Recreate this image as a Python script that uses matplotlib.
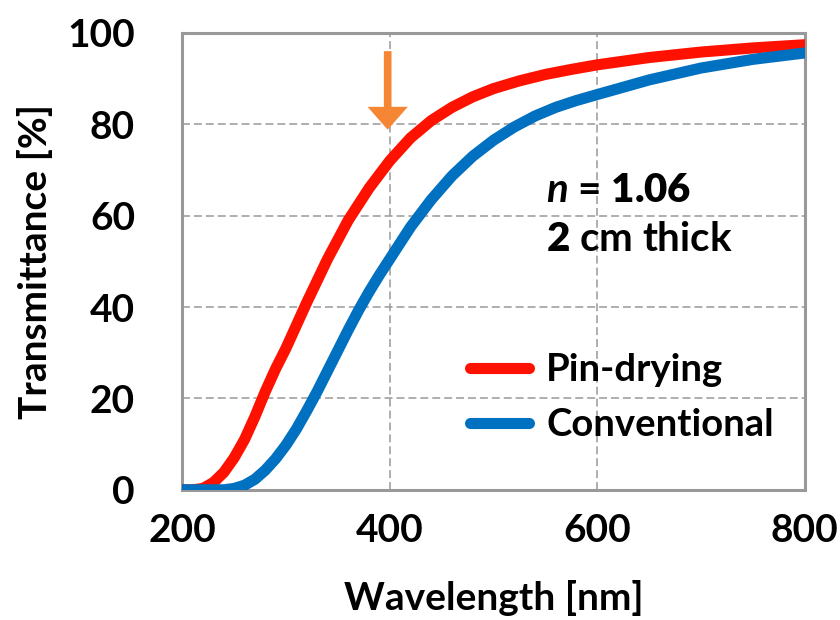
import matplotlib
matplotlib.use('Agg')
import matplotlib.pyplot as plt

plt.rcParams['font.family'] = ['Lato', 'DejaVu Sans']
plt.rcParams['mathtext.fontset'] = 'custom'
plt.rcParams['mathtext.rm'] = 'Lato:bold'
plt.rcParams['mathtext.it'] = 'Lato:italic:bold'
plt.rcParams['mathtext.bf'] = 'Lato:heavy'

# wavelength [nm] and transmittance [%]
wl_pin = [200, 210, 220, 230, 240, 250, 260, 270, 280, 290, 300, 310, 320, 340, 360, 380,
          400, 420, 440, 460, 480, 500, 525, 550, 575, 600, 650, 700, 750, 800]
pin_drying = [0, 0, 0.3, 1.6, 3.8, 7, 11, 16, 21.5, 26.5, 31, 36, 41, 50.5, 59, 66,
              72, 77, 80.8, 83.7, 86, 87.8, 89.5, 90.9, 92, 93, 94.6, 95.8, 96.7, 97.4]
wl_conv = [200, 220, 240, 250, 260, 270, 280, 290, 300, 310, 320, 330, 340, 350, 360, 370,
           380, 390, 400, 420, 440, 460, 480, 500, 520, 540, 560, 580, 600, 650, 700, 750, 800]
conventional = [0, 0, 0, 0.3, 1, 2.3, 4.3, 6.8, 9.8, 13.3, 17.3, 21.5, 26, 30.5, 35, 39.3,
                43.3, 47, 50.5, 57.5, 63.5, 68.7, 73, 76.5, 79.4, 81.8, 83.7, 85.2, 86.5,
                89.7, 92.3, 94.2, 95.6]

xticks = [200, 400, 600, 800]
yticks = [0, 20, 40, 60, 80, 100]
arrow_x = 398
arrow_top, arrow_tip = 96, 78.8

fig = plt.figure(figsize=(8.4, 6.2), dpi=100)
ax = fig.add_axes([0.217, 0.21, 0.741, 0.737])

ax.plot(wl_pin, pin_drying, color='#FF1100', lw=8, label='Pin-drying', zorder=3)
ax.plot(wl_conv, conventional, color='#0070C0', lw=8, label='Conventional', zorder=3)

ax.annotate('', xy=(arrow_x, arrow_tip), xytext=(arrow_x, arrow_top),
            arrowprops=dict(width=5.5, headwidth=29, headlength=16.5, shrink=0,
                            color='#F58634', lw=0), zorder=4)

ax.set_xlim(200, 800)
ax.set_ylim(0, 100)
ax.set_xticks(xticks)
ax.set_yticks(yticks)
ax.tick_params(length=0, labelsize=28)
ax.tick_params(axis='x', pad=17)
ax.tick_params(axis='y', pad=34)
for lab in ax.get_xticklabels() + ax.get_yticklabels():
    lab.set_fontweight('bold')
ax.grid(True, color='#999999', ls=(0, (5.2, 2.6)), lw=1.1)
for s in ax.spines.values():
    s.set_color('#999999')
    s.set_linewidth(2.2)

ax.set_xlabel('Wavelength [nm]', fontsize=28, fontweight='bold', va='center')
ax.set_ylabel('Transmittance [%]', fontsize=28, fontweight='bold', va='center')
ax.xaxis.set_label_coords(0.5, -0.236)
ax.yaxis.set_label_coords(-0.236, 0.5)

ax.text(0.584, 0.656, r'$n$ = $\mathbf{1.06}$', transform=ax.transAxes, fontsize=29,
        fontweight='bold', va='center')
ax.text(0.584, 0.547, r'$\mathbf{2}$ cm thick', transform=ax.transAxes, fontsize=29,
        fontweight='bold', va='center')

leg = ax.legend(loc='center left', bbox_to_anchor=(0.462, 0.202), frameon=False, fontsize=27.5,
                handlelength=1.55, handletextpad=0.45, labelspacing=0.55, borderpad=0,
                borderaxespad=0)
for t in leg.get_texts():
    t.set_fontweight('bold')
for h in leg.get_lines():
    h.set_solid_capstyle('round')

fig.savefig('out.png', dpi=100)
